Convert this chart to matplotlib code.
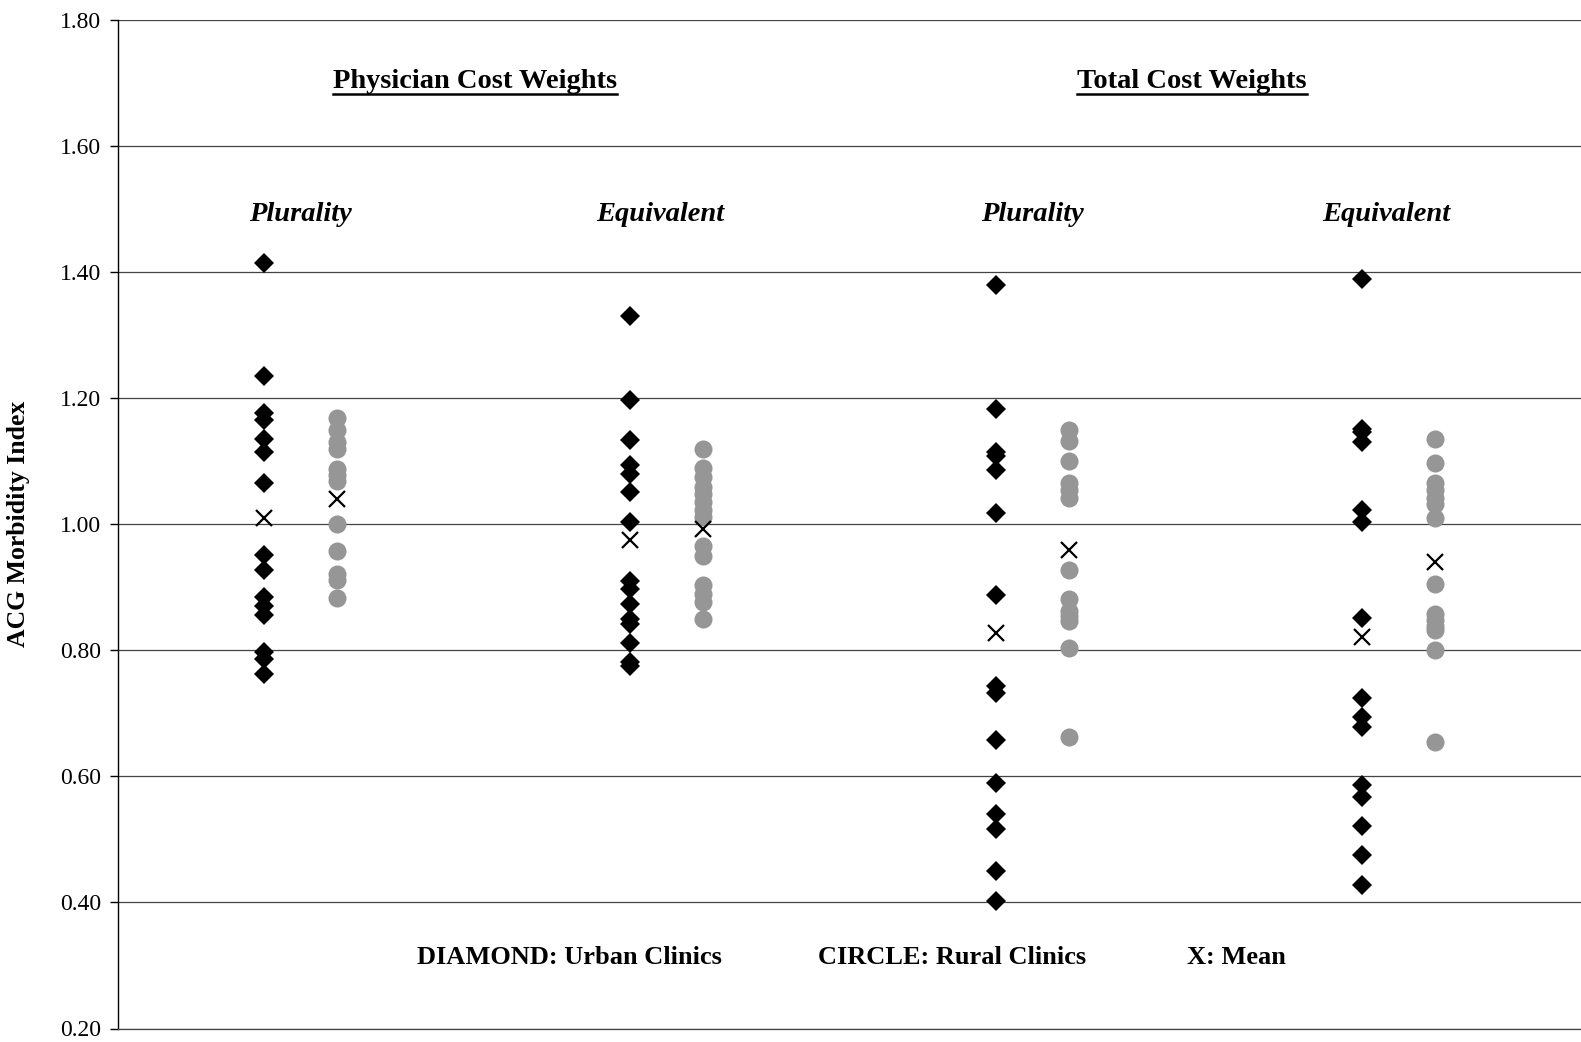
import matplotlib
matplotlib.use("Agg")
import matplotlib.pyplot as plt
from matplotlib.lines import Line2D

# ---- data ----
group_x = [1.0, 2.0, 3.0, 4.0]          # urban column positions
rural_offset = 0.2

urban_phys_plur = [1.414, 1.235, 1.176, 1.165, 1.135, 1.115, 1.065, 0.951, 0.928,
                   0.885, 0.870, 0.856, 0.797, 0.787, 0.762]
rural_phys_plur = [1.168, 1.150, 1.130, 1.120, 1.088, 1.078, 1.068, 1.000, 0.957,
                   0.922, 0.912, 0.883]
urban_phys_equiv = [1.331, 1.198, 1.134, 1.094, 1.080, 1.051, 1.004, 0.910, 0.898,
                    0.874, 0.850, 0.842, 0.812, 0.781, 0.776]
rural_phys_equiv = [1.120, 1.090, 1.075, 1.060, 1.048, 1.035, 1.022, 1.012, 0.965,
                    0.950, 0.903, 0.890, 0.876, 0.850]
urban_tot_plur = [1.380, 1.183, 1.115, 1.108, 1.086, 1.018, 0.888, 0.744, 0.733,
                  0.658, 0.590, 0.541, 0.517, 0.450, 0.403]
rural_tot_plur = [1.150, 1.133, 1.100, 1.066, 1.055, 1.042, 0.928, 0.882, 0.862,
                  0.855, 0.847, 0.803, 0.662]
urban_tot_equiv = [1.390, 1.152, 1.146, 1.131, 1.023, 1.004, 0.852, 0.724, 0.695,
                   0.678, 0.587, 0.567, 0.521, 0.475, 0.428]
rural_tot_equiv = [1.135, 1.097, 1.065, 1.055, 1.042, 1.032, 1.010, 0.906, 0.858,
                   0.848, 0.838, 0.832, 0.800, 0.654]

urban_means = [1.010, 0.975, 0.827, 0.822]
rural_means = [1.041, 0.992, 0.959, 0.940]

urban_sets = [urban_phys_plur, urban_phys_equiv, urban_tot_plur, urban_tot_equiv]
rural_sets = [rural_phys_plur, rural_phys_equiv, rural_tot_plur, rural_tot_equiv]

section_titles = ["Physician Cost Weights", "Total Cost Weights"]
section_title_x = [1.577, 3.536]
method_labels = ["Plurality", "Equivalent", "Plurality", "Equivalent"]
method_label_x = [1.098, 2.082, 3.101, 4.068]
legend_texts = ["DIAMOND: Urban Clinics", "CIRCLE: Rural Clinics", "X: Mean"]
legend_x = [1.833, 2.880, 3.658]
y_ticks = [0.20, 0.40, 0.60, 0.80, 1.00, 1.20, 1.40, 1.60, 1.80]

SERIF = ["Liberation Serif", "DejaVu Serif"]

fig = plt.figure(figsize=(15.81, 10.42), dpi=100)
ax = fig.add_axes([118 / 1581, 13.5 / 1042, 1 - 118 / 1581, (1028.5 - 20.2) / 1042])

for gx, u, r in zip(group_x, urban_sets, rural_sets):
    ax.plot([gx] * len(u), u, linestyle="none", marker="D", markersize=9.8,
            color="black", markeredgewidth=0, zorder=3)
    ax.plot([gx + rural_offset] * len(r), r, linestyle="none", marker="o",
            markersize=13, color="#969696", markeredgewidth=0, zorder=3)

ax.plot(group_x, urban_means, linestyle="none", marker="x", markersize=12,
        markeredgewidth=1.6, color="black", zorder=4)
ax.plot([g + rural_offset for g in group_x], rural_means, linestyle="none",
        marker="x", markersize=12, markeredgewidth=1.6, color="black", zorder=4)

ax.set_xlim(0.6, 4.6)
ax.set_ylim(0.20, 1.80)
ax.set_yticks(y_ticks)
ax.set_yticklabels([f"{v:.2f}" for v in y_ticks], fontfamily=SERIF, fontsize=17)
ax.set_xticks([])
ax.tick_params(axis="y", direction="out", length=6, width=1, color="black", pad=6)
ax.yaxis.grid(True, color="#444444", linewidth=0.9)
ax.set_axisbelow(True)
for s in ["top", "right"]:
    ax.spines[s].set_visible(False)
ax.spines["bottom"].set_color("#444444")
ax.spines["bottom"].set_linewidth(0.9)
ax.spines["left"].set_linewidth(1.0)
ax.spines["left"].set_color("black")

ax.set_ylabel("ACG Morbidity Index", fontfamily=SERIF, fontsize=18.5, fontweight="bold")
ax.yaxis.set_label_coords(-0.0602, 0.5)

title_texts = []
for t, x in zip(section_titles, section_title_x):
    title_texts.append(ax.text(x, 1.702, t, ha="center", va="center",
                               fontfamily=SERIF, fontsize=20.5, fontweight="bold"))
for t, x in zip(method_labels, method_label_x):
    ax.text(x, 1.492, t, ha="center", va="center", fontfamily=SERIF,
            fontsize=20.5, fontweight="bold", fontstyle="italic")
for t, x in zip(legend_texts, legend_x):
    ax.text(x, 0.312, t, ha="center", va="center", fontfamily=SERIF,
            fontsize=19, fontweight="bold")

# underline section titles
fig.canvas.draw()
renderer = fig.canvas.get_renderer()
W, H = fig.get_size_inches() * fig.dpi
for t in title_texts:
    bb = t.get_window_extent(renderer)
    y = bb.y0 + 0.3
    fig.add_artist(Line2D([bb.x0 / W, bb.x1 / W], [y / H, y / H],
                          transform=fig.transFigure, color="black", linewidth=1.8))

fig.savefig("out.png", dpi=100)
